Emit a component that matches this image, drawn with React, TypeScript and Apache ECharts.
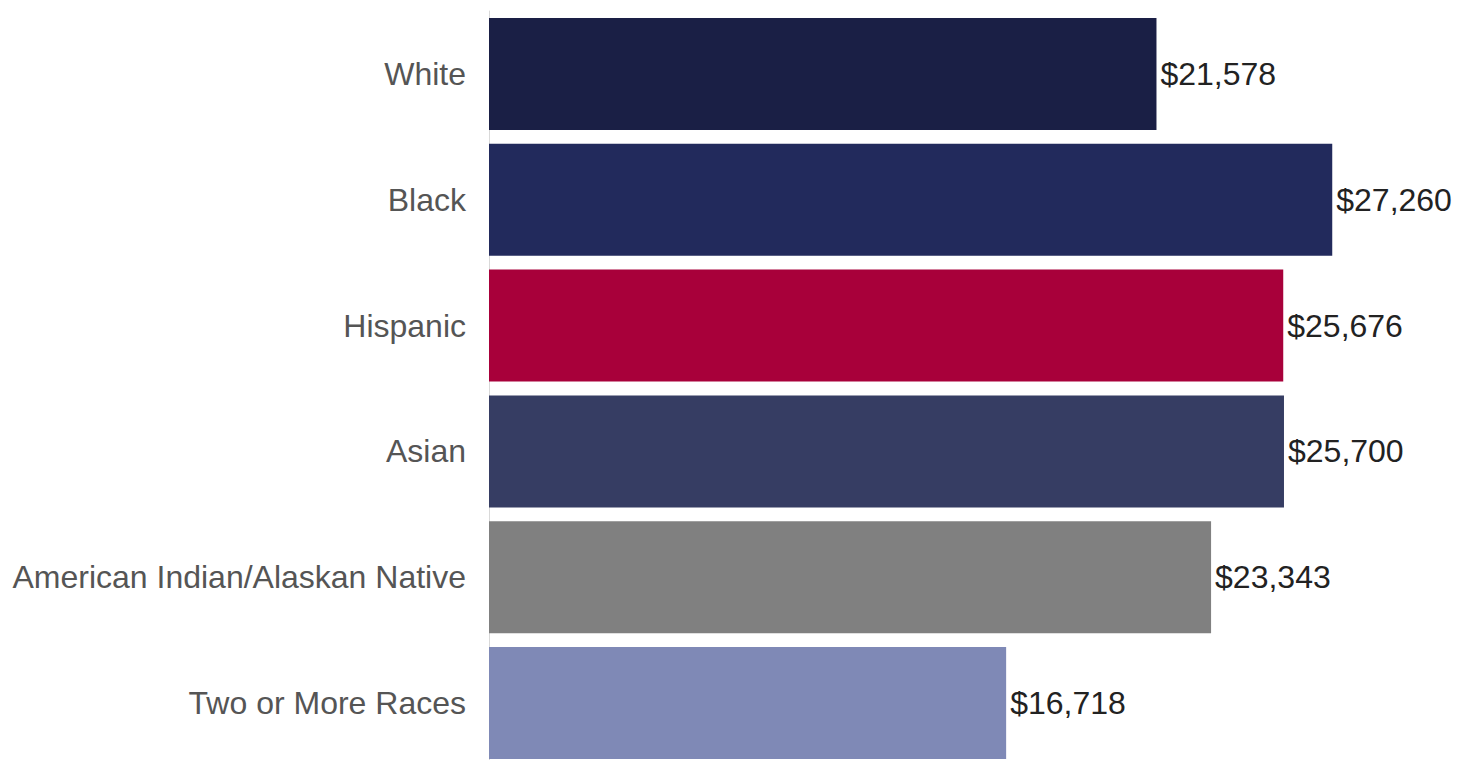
import React, { useEffect, useRef } from "react";
import * as echarts from "echarts";

const categories = ["White", "Black", "Hispanic", "Asian", "American Indian/Alaskan Native", "Two or More Races"];
const values = [21578, 27260, 25676, 25700, 23343, 16718];
const colors = ["#1a1f45", "#222a5c", "#a8003a", "#363d63", "#808080", "#7f89b6"];

export default function App() {
  const ref = useRef<HTMLDivElement>(null);
  useEffect(() => {
    const chart = echarts.init(ref.current!, null, { renderer: "svg" });
    chart.setOption({
      animation: false,
      grid: { left: 489, width: 928, top: 11, height: 755, containLabel: false, outerBoundsMode: "none" },
      xAxis: {
        type: "value",
        min: 0,
        max: 30000,
        show: false,
      },
      yAxis: {
        type: "category",
        inverse: true,
        data: categories,
        axisLine: { show: true, lineStyle: { color: "#d9d9d9", width: 1 } },
        axisTick: { show: false },
        axisLabel: {
          margin: 23,
          fontSize: 32,
          color: "#555555",
          fontFamily: "Liberation Sans, Arial, sans-serif",
        },
      },
      series: [
        {
          type: "bar",
          barCategoryGap: "11%",
          data: values.map((v, i) => ({ value: v, itemStyle: { color: colors[i] } })),
          label: {
            show: true,
            position: "right",
            distance: 4,
            fontSize: 32,
            color: "#222222",
            fontFamily: "Liberation Sans, Arial, sans-serif",
            formatter: (p: any) => "$" + Number(p.value).toLocaleString("en-US"),
          },
        },
      ],
    });
    return () => chart.dispose();
  }, []);
  return <div ref={ref} style={{ width: 1458, height: 760, position: "absolute", left: 0, top: 0 }} />;
}
